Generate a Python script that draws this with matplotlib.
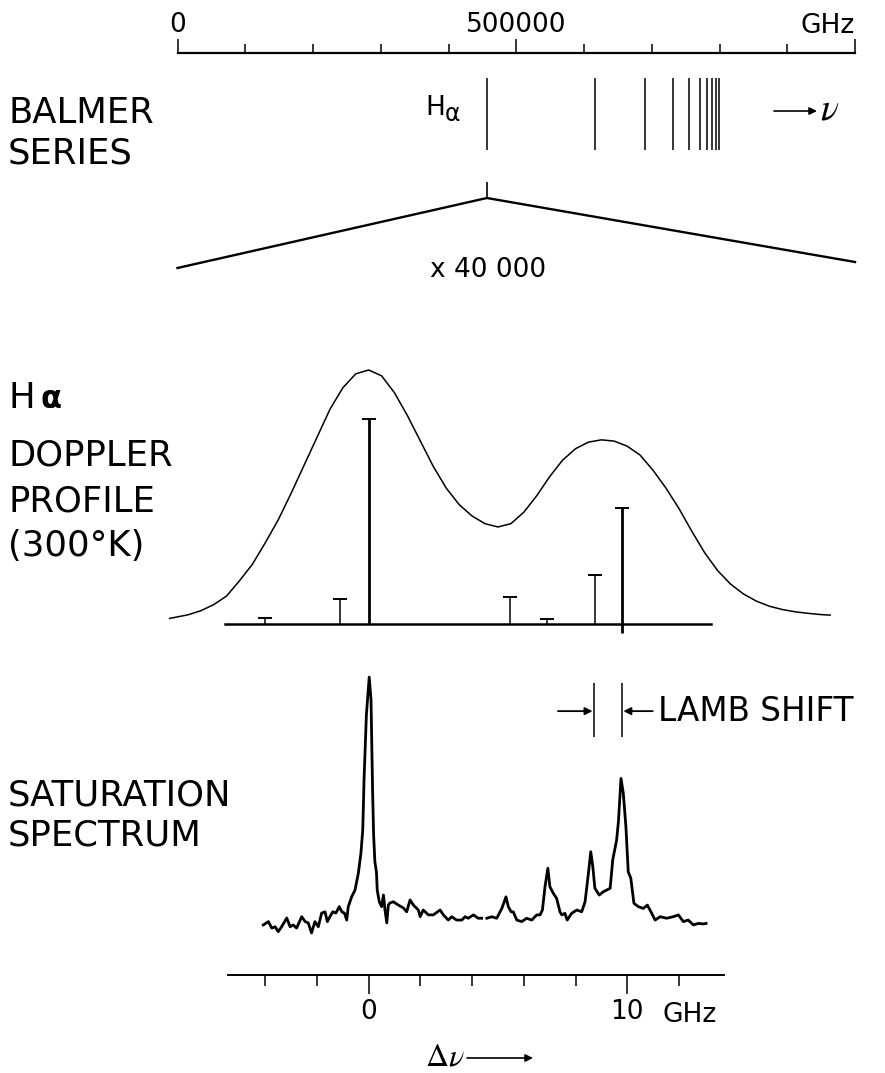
import numpy as np
import matplotlib
matplotlib.use("Agg")
import matplotlib.pyplot as plt

W, H, DPI = 885, 1073, 100
plt.rcParams['font.family'] = ['DejaVu Sans']
plt.rcParams['mathtext.fontset'] = 'stix'

# ---------------- data ----------------
# Balmer series line frequencies (GHz): H-alpha, H-beta, ...
balmer_ghz = [456680, 616520, 690490, 730680, 754910, 770640, 781420,
              789130, 794840, 799180]
top_major = [0, 500000, 1000000]
top_major_labels = ['0', '500000', '']
top_minor = [100000, 200000, 300000, 400000, 600000, 700000, 800000, 900000]

# Doppler profile (relative intensity vs detuning, GHz)
doppler_dnu = [-7.7, -7.0, -6.5, -6.0, -5.5, -5.0, -4.5, -4.0, -3.5, -3.0,
               -2.5, -2.0, -1.5, -1.0, -0.5, 0.0, 0.5, 1.0, 1.5, 2.0,
               2.5, 3.0, 3.5, 4.0, 4.5, 5.0, 5.5, 6.0, 6.5, 7.0,
               7.5, 8.0, 8.5, 9.0, 9.5, 10.0, 10.5, 11.0, 11.5, 12.0,
               12.5, 13.0, 13.5, 14.0, 14.5, 15.0, 15.5, 16.0, 16.5, 17.0,
               17.5, 17.85]
doppler_int = [0.022, 0.036, 0.052, 0.076, 0.110, 0.170, 0.235, 0.320, 0.410, 0.515,
               0.625, 0.735, 0.845, 0.930, 0.985, 1.000, 0.977, 0.910, 0.820, 0.720,
               0.620, 0.535, 0.470, 0.425, 0.395, 0.382, 0.395, 0.440, 0.505, 0.580,
               0.645, 0.690, 0.716, 0.725, 0.720, 0.700, 0.665, 0.605, 0.535, 0.455,
               0.365, 0.280, 0.210, 0.157, 0.118, 0.090, 0.070, 0.057, 0.048, 0.042,
               0.037, 0.035]
assert len(doppler_dnu) == len(doppler_int)

# Fine-structure components (stick spectrum)
comp_dnu = [-4.03, -1.10, 0.0, 5.48, 6.90, 8.77, 9.80]
comp_int = [0.025, 0.097, 0.806, 0.105, 0.019, 0.193, 0.456]

# Saturation spectrum (arb. units), nan = gap in the trace
spec_dnu = [-4.08, -3.88, -3.75, -3.62, -3.50, -3.37, -3.17, -3.04, -2.92, -2.79,
            -2.59, -2.46, -2.34, -2.21, -2.08, -1.95, -1.82, -1.69, -1.60, -1.50,
            -1.39, -1.27, -1.14, -1.04, -0.94, -0.85, -0.79, -0.66, -0.53, -0.40,
            -0.30, -0.23, -0.18, -0.09, 0.02, 0.09, 0.15, 0.19, 0.24, 0.30,
            0.33, 0.41, 0.50, 0.57, 0.63, 0.70, 0.76, 0.82, 0.95, 1.15,
            1.34, 1.47, 1.60, 1.73, 1.92, 1.99, 2.11, 2.31, 2.50, 2.76,
            2.89, 3.08, 3.21, 3.40, 3.60, 3.73, 3.85, 4.05, 4.24, 4.37,
            4.47, 4.57, 4.76, 4.95, 5.15, 5.31, 5.40, 5.51, 5.59, 5.73,
            5.92, 6.11, 6.31, 6.50, 6.63, 6.72, 6.82, 6.93, 7.01, 7.14,
            7.27, 7.40, 7.47, 7.59, 7.68, 7.85, 8.05, 8.24, 8.37, 8.50,
            8.59, 8.67, 8.75, 8.92, 9.08, 9.34, 9.44, 9.59, 9.66, 9.76,
            9.85, 9.95, 10.04, 10.14, 10.26, 10.43, 10.62, 10.78, 10.95, 11.08,
            11.27, 11.53, 11.78, 11.98, 12.17, 12.36, 12.56, 12.75, 12.94, 13.05]
spec_sig = [3.9, 5.2, 2.7, 3.2, 1.3, 3.2, 6.6, 3.2, 3.9, 2.7,
            7.1, 5.2, 4.7, 0.8, 5.2, 3.2, 8.5, 9.0, 5.2, 7.1,
            9.0, 8.5, 11.0, 9.0, 8.5, 5.8, 11.0, 14.8, 17.4, 24.0,
            31.8, 40.7, 60.1, 85.3, 100.0, 91.1, 56.2, 38.8, 28.3, 24.4,
            17.4, 12.9, 11.0, 15.5, 9.7, 4.7, 11.6, 12.4, 12.9, 11.6,
            10.5, 9.0, 13.6, 11.6, 9.7, 7.1, 9.7, 7.8, 7.8, 9.7,
            7.8, 5.8, 7.1, 5.8, 5.8, 7.1, 6.5, 7.8, 6.5, 6.5,
            np.nan, 6.5, 7.1, 6.5, 10.3, 14.8, 11.0, 9.0, 9.0, 5.8,
            5.2, 6.5, 5.8, 7.8, 7.8, 9.7, 18.7, 25.9, 18.7, 16.2,
            14.2, 9.0, 7.8, 8.4, 5.8, 8.4, 9.7, 9.0, 12.9, 23.9,
            32.3, 26.5, 18.1, 15.5, 16.8, 18.1, 29.1, 36.8, 43.9, 60.7,
            54.9, 42.0, 24.5, 22.0, 12.3, 11.0, 10.3, 11.6, 8.4, 5.8,
            7.1, 6.5, 7.1, 7.8, 5.2, 5.8, 3.9, 4.5, 4.3, 4.5]
assert len(spec_dnu) == len(spec_sig)

lamb_lines = [8.72, 9.79]
bot_major = [0, 10]
bot_major_labels = ['0', '10']
bot_minor = [-4, -2, 2, 4, 6, 8, 12]

# ---------------- layout helpers ----------------
fig = plt.figure(figsize=(W / DPI, H / DPI), dpi=DPI)


def px_axes(x0, y0, x1, y1):
    return fig.add_axes([x0 / W, 1 - y1 / H, (x1 - x0) / W, (y1 - y0) / H])


def ftext(x, y, s, **kw):
    kw.setdefault('va', 'baseline')
    return fig.text(x / W, 1 - y / H, s, **kw)


def farrow(x0, x1, y, lw=1.3, ms=12):
    fig.add_artist(matplotlib.patches.FancyArrowPatch(
        (x0 / W, 1 - y / H), (x1 / W, 1 - y / H), transform=fig.transFigure,
        arrowstyle='-|>', mutation_scale=ms, lw=lw, color='k',
        shrinkA=0, shrinkB=0))


LBL = 25.5
ftext(8, 123, 'BALMER', fontsize=LBL)
ftext(8, 163, 'SERIES', fontsize=LBL)
ftext(8, 408, 'H', fontsize=LBL)
ftext(40, 408, 'α', fontsize=22, fontweight='bold')
ftext(8, 465, 'DOPPLER', fontsize=LBL)
ftext(8, 512, 'PROFILE', fontsize=LBL)
ftext(8, 556, '(300°K)', fontsize=LBL)
ftext(8, 805, 'SATURATION', fontsize=LBL)
ftext(8, 845, 'SPECTRUM', fontsize=LBL)

# ---------------- top: Balmer series ruler ----------------
ax_top = px_axes(177.5, 53, 855, 280)
ax_top.set_xlim(0, 1000000)
ax_top.set_ylim(280, 53)
for s in ['left', 'right', 'bottom']:
    ax_top.spines[s].set_visible(False)
ax_top.spines['top'].set_linewidth(1.6)
ax_top.yaxis.set_visible(False)
ax_top.xaxis.tick_top()
ax_top.set_xticks(top_major)
ax_top.set_xticklabels(top_major_labels)
ax_top.set_xticks(top_minor, minor=True)
ax_top.tick_params(axis='x', which='major', direction='out', length=10,
                   width=1.1, pad=1, labelsize=19)
ax_top.tick_params(axis='x', which='minor', direction='out', length=6.5,
                   width=1.1)
ax_top.patch.set_alpha(0)

ax_top.vlines(balmer_ghz, 78, 150, color='k', lw=1.1)
ha_freq = balmer_ghz[0]
ax_top.vlines([ha_freq], 182, 198, color='k', lw=1.2)
ax_top.plot([0, ha_freq, 1000000], [268, 198, 262], color='k', lw=1.7,
            clip_on=False, solid_joinstyle='miter')
ftext(855, 33, 'GHz', fontsize=19, ha='right')
ftext(425, 115, 'H', fontsize=19)
ftext(445, 121, 'α', fontsize=17)
farrow(774, 817, 111, lw=1.2, ms=11)
ftext(820, 120, r'$\nu$', fontsize=27)
ftext(488, 277, 'x 40 000', fontsize=19, ha='center')

XL = ((170 - 368.7) / 25.85, (860 - 368.7) / 25.85)

# ---------------- middle: Doppler profile ----------------
ax_mid = px_axes(170, 350, 860, 640)
ax_mid.set_xlim(*XL)
ax_mid.set_ylim(-16 / 254, 274 / 254)
ax_mid.axis('off')
ax_mid.plot(doppler_dnu, doppler_int, color='k', lw=1.1, clip_on=False,
            solid_joinstyle='round')
ax_mid.plot([-5.55, 13.25], [0, 0], color='k', lw=1.8)
lws = [2.0 if v > 0.3 else 1.1 for v in comp_int]
ax_mid.vlines(comp_dnu, 0, comp_int, color='k', lw=lws)
ax_mid.plot(comp_dnu, comp_int, ls='none', marker='_', ms=10, mew=1.4,
            color='k')
ax_mid.vlines([comp_dnu[-1]], -0.035, 0, color='k', lw=2.0)

# ---------------- bottom: saturation spectrum ----------------
ax_bot = px_axes(170, 650, 860, 975)
ax_bot.set_xlim(*XL)
ax_bot.set_ylim(-15.5, 110.5)
for s in ['left', 'right', 'top']:
    ax_bot.spines[s].set_visible(False)
ax_bot.spines['bottom'].set_bounds(-5.44, 13.74)
ax_bot.spines['bottom'].set_linewidth(1.4)
ax_bot.yaxis.set_visible(False)
ax_bot.set_xticks(bot_major)
ax_bot.set_xticklabels(bot_major_labels)
ax_bot.set_xticks(bot_minor, minor=True)
ax_bot.tick_params(axis='x', which='major', direction='out', length=14,
                   width=1.1, pad=3, labelsize=19)
ax_bot.tick_params(axis='x', which='minor', direction='out', length=8,
                   width=1.1)
ax_bot.patch.set_alpha(0)

ax_bot.plot(spec_dnu, spec_sig, color='k', lw=2.0, solid_joinstyle='round')
ax_bot.vlines(lamb_lines, 76.7, 97.7, color='k', lw=1.1)
ax_bot.annotate('', xy=(lamb_lines[0] - 0.06, 86.8),
                xytext=(lamb_lines[0] - 1.4, 86.8),
                arrowprops=dict(arrowstyle='-|>', lw=1.3, color='k',
                                mutation_scale=11, shrinkA=0, shrinkB=0))
ax_bot.annotate('', xy=(lamb_lines[1] + 0.06, 86.8),
                xytext=(lamb_lines[1] + 1.2, 86.8),
                arrowprops=dict(arrowstyle='-|>', lw=1.3, color='k',
                                mutation_scale=11, shrinkA=0, shrinkB=0))
ax_bot.text(lamb_lines[1] + 1.42, 86.8, 'LAMB SHIFT', fontsize=23.5,
            ha='left', va='center')

ftext(663, 1022, 'GHz', fontsize=19)
ftext(425, 1066, r'$\Delta\nu$', fontsize=23)
farrow(467, 533, 1058, lw=1.2, ms=11)

fig.savefig('out.png', dpi=DPI, facecolor='white')
